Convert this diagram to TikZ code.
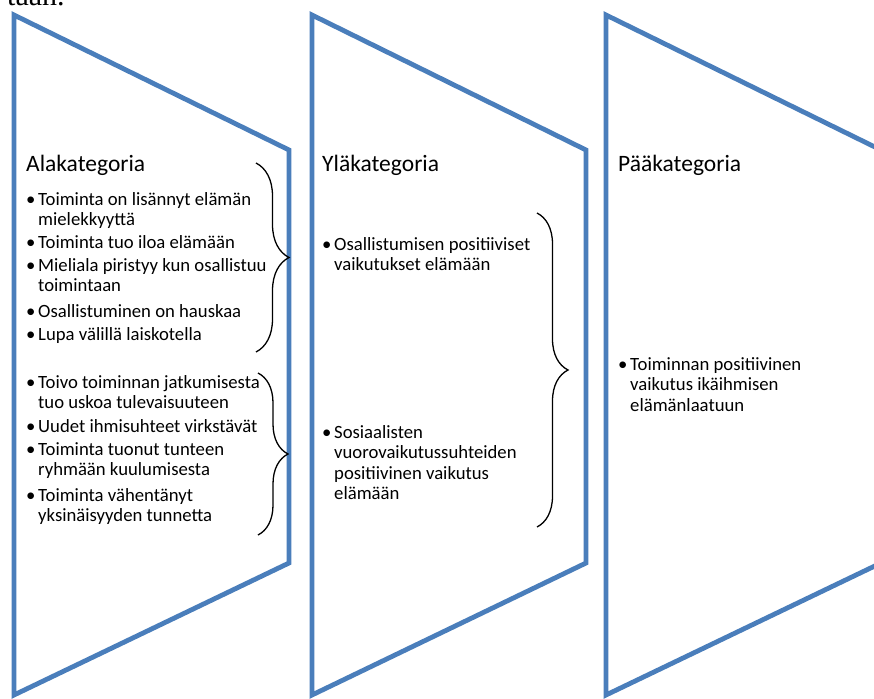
\documentclass[tikz,border=0pt]{standalone}
\usepackage{fontspec}
\setmainfont{Carlito}
\newfontfamily\bodyserif{Liberation Serif}
\usetikzlibrary{decorations.pathreplacing}
\definecolor{chevronblue}{RGB}{74,126,187}
% bullet mark and hanging indent for wrapped lines
\newcommand\itemmark{\makebox[11pt][l]{\hspace*{-1pt}•}}
\newcommand\contline{\hspace*{11pt}}

\begin{document}
\begin{tikzpicture}[x=1pt,y=-1pt,
  panel/.style={draw=chevronblue, line width=4.8pt, line join=miter},
  heading/.style={anchor=base west, inner sep=0pt, font=\fontsize{23.5}{28}\selectfont},
  % anchored at the baseline of the last line of the entry
  entry/.style={anchor=base west, inner sep=0pt, align=left, font=\fontsize{18.7}{20.5}\selectfont},
  groupbrace/.style={draw=black, line width=1.3pt, decorate,
    decoration={brace, amplitude=#1, aspect=0.5}}
]
\useasboundingbox (0,0) rectangle (874,698);
\clip (0,0) rectangle (874,698);

% last line of the preceding body text
\node[anchor=base west, inner sep=0pt, font=\bodyserif\fontsize{30}{34}\selectfont] (prevline) at (7,6) {taan.};

% three chevron panels
\draw[panel] (14,15) -- (289,150) -- (289,563) -- (14,695) -- cycle;
\draw[panel] (312,15) -- (586,150) -- (586,563) -- (312,695) -- cycle;
\draw[panel] (606,15) -- (881,150) -- (881,563) -- (606,695) -- cycle;

% headings
\node[heading] (h1) at (26,171) {Alakategoria};
\node[heading] (h2) at (322,171) {Yläkategoria};
\node[heading] (h3) at (618,171) {Pääkategoria};

% lower categories, first group
\node[entry] (a1) at (27,225.5) {\itemmark Toiminta on lisännyt elämän\\\contline mielekkyyttä};
\node[entry] (a2) at (27,248) {\itemmark Toiminta tuo iloa elämään};
\node[entry] (a3) at (27,291.5) {\itemmark Mieliala piristyy kun osallistuu\\\contline toimintaan};
\node[entry] (a4) at (27,317) {\itemmark Osallistuminen on hauskaa};
\node[entry] (a5) at (27,340) {\itemmark Lupa välillä laiskotella};

% lower categories, second group
\node[entry] (b1) at (27,408.5) {\itemmark Toivo toiminnan jatkumisesta\\\contline tuo uskoa tulevaisuuteen};
\node[entry] (b2) at (27,432) {\itemmark Uudet ihmisuhteet virkstävät};
\node[entry] (b3) at (27,475.5) {\itemmark Toiminta tuonut tunteen\\\contline ryhmään kuulumisesta};
\node[entry] (b4) at (27,521.5) {\itemmark Toiminta vähentänyt\\\contline yksinäisyyden tunnetta};

% upper categories
\node[entry] (u1) at (323,270.5) {\itemmark Osallistumisen positiiviset\\\contline vaikutukset elämään};
\node[entry] (u2) at (323,499.5) {\itemmark Sosiaalisten\\\contline vuorovaikutussuhteiden\\\contline positiivinen vaikutus\\\contline elämään};

% main category
\node[entry] (m1) at (619,411) {\itemmark Toiminnan positiivinen\\\contline vaikutus ikäihmisen\\\contline elämänlaatuun};

% grouping braces
\coordinate (br1t) at (256,163);
\coordinate (br1b) at (256,352);
\coordinate (br2t) at (258,373);
\coordinate (br2b) at (258,535);
\coordinate (br3t) at (537,213);
\coordinate (br3b) at (537,527);
\draw[groupbrace=33pt] (br1t) -- (br1b);
\draw[groupbrace=30pt] (br2t) -- (br2b);
\draw[groupbrace=31pt] (br3t) -- (br3b);
\end{tikzpicture}
\end{document}
